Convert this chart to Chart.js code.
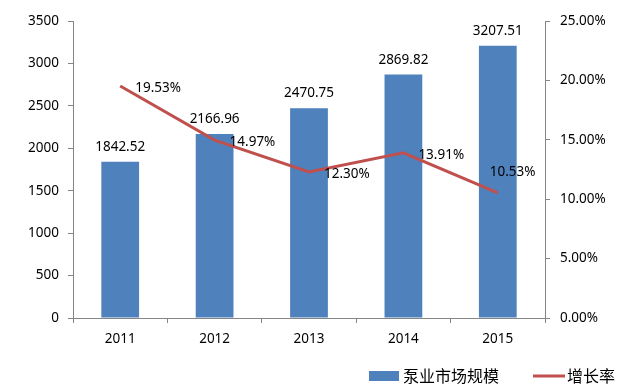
<!DOCTYPE html>
<html>
<head>
<meta charset="utf-8">
<script src="https://cdn.jsdelivr.net/npm/chart.js@4"></script>
<style>
  body { margin: 0; background: #fff; }
  #wrap { width: 625px; height: 391px; }
</style>
</head>
<body>
<div id="wrap"><canvas id="pumpChart" width="625" height="391"></canvas></div>
<script>
// data
const years = ['2011', '2012', '2013', '2014', '2015'];
const marketSize = [1842.52, 2166.96, 2470.75, 2869.82, 3207.51];
const growthRate = [19.53, 14.97, 12.30, 13.91, 10.53];
const barLabel = '泵业市场规模';
const lineLabel = '增长率';

const blue = '#4F81BD';
const red = '#C0504D';
const axisGrey = '#868686';
const numFont = '"Noto Sans", sans-serif';
const cjkFont = '"Noto Sans CJK SC", sans-serif';

// value labels + legend, drawn by hand to copy the Excel look
const labelsPlugin = {
    id: 'valueLabels',
    afterDatasetsDraw(chart) {
        const ctx = chart.ctx;
        const area = chart.chartArea;
        ctx.save();
        ctx.font = '13.5px ' + numFont;
        ctx.fillStyle = '#000';

        // bar labels
        chart.getDatasetMeta(0).data.forEach((bar, i) => {
            ctx.textAlign = 'center';
            ctx.textBaseline = 'bottom';
            ctx.fillText(marketSize[i].toFixed(2), bar.x, bar.y - 8);
        });

        // line labels, to the right of each point
        chart.getDatasetMeta(1).data.forEach((pt, i) => {
            const txt = growthRate[i].toFixed(2) + '%';
            const w = ctx.measureText(txt).width;
            let x = pt.x + 15;
            let y = pt.y + 2;
            if (x + w > area.right - 6) {
                x = pt.x - 8;
                y = pt.y - 21;
            }
            ctx.textAlign = 'left';
            ctx.textBaseline = 'middle';
            ctx.fillText(txt, x, y);
        });

        // legend at bottom right
        const ly = 376;
        ctx.fillStyle = blue;
        ctx.fillRect(369, ly - 5, 30, 10);
        ctx.font = '16px ' + cjkFont;
        ctx.fillStyle = '#000';
        ctx.textBaseline = 'middle';
        ctx.fillText(barLabel, 403, ly);
        ctx.strokeStyle = red;
        ctx.lineWidth = 3;
        ctx.beginPath();
        ctx.moveTo(533, ly);
        ctx.lineTo(565, ly);
        ctx.stroke();
        ctx.fillText(lineLabel, 567, ly);
        ctx.restore();
    }
};

const ctx = document.getElementById('pumpChart').getContext('2d');
const pumpChart = new Chart(ctx, {
    data: {
        labels: years,
        datasets: [{
            type: 'bar',
            label: barLabel,
            data: marketSize,
            yAxisID: 'y',
            backgroundColor: blue,
            categoryPercentage: 1,
            barPercentage: 0.4,
            order: 1
        }, {
            type: 'line',
            label: lineLabel,
            data: growthRate,
            yAxisID: 'y1',
            borderColor: red,
            borderWidth: 3,
            pointRadius: 0,
            tension: 0,
            order: 0
        }]
    },
    options: {
        responsive: false,
        animation: false,
        layout: { padding: { top: 21, bottom: 43, left: 0, right: 0 } },
        plugins: {
            legend: { display: false },
            tooltip: { enabled: false }
        },
        scales: {
            x: {
                offset: true,
                grid: { offset: true, drawOnChartArea: false, tickLength: 5, color: axisGrey },
                border: { color: axisGrey },
                ticks: { color: '#000', font: { family: numFont, size: 13.5 }, padding: 8 },
                afterFit(s) { s.height = 30; }
            },
            y: {
                position: 'left',
                min: 0, max: 3500,
                ticks: {
                    stepSize: 500, color: '#000', font: { family: numFont, size: 13.5 }, padding: 9,
                    callback: v => String(v)
                },
                grid: { drawOnChartArea: false, tickLength: 5, color: axisGrey },
                border: { color: axisGrey },
                afterFit(s) { s.width = 73; }
            },
            y1: {
                position: 'right',
                min: 0, max: 25,
                ticks: {
                    stepSize: 5, color: '#000', font: { family: numFont, size: 13.5 }, padding: 10,
                    callback: v => v.toFixed(2) + '%'
                },
                grid: { drawOnChartArea: false, tickLength: 5, color: axisGrey },
                border: { color: axisGrey },
                afterFit(s) { s.width = 80; }
            }
        }
    },
    plugins: [labelsPlugin]
});
</script>
</body>
</html>
